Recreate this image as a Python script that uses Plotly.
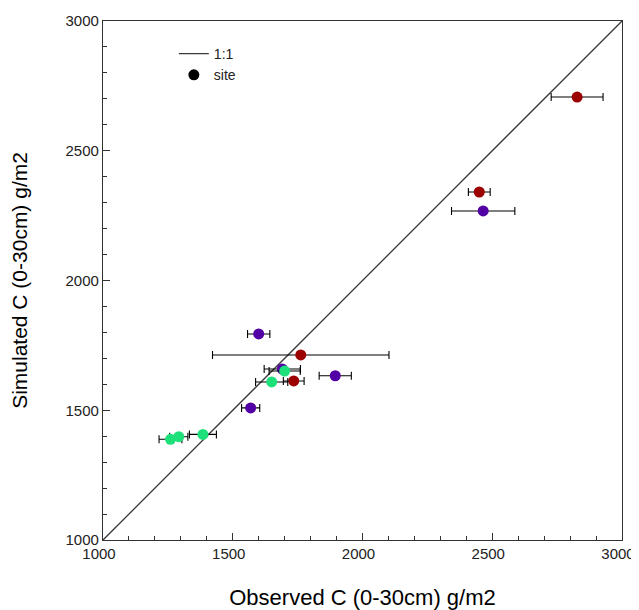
import plotly.graph_objects as go

# Observed (x), simulated (y), observed error (±) per site group
red_obs = [2827, 2450, 1762, 1735]
red_sim = [2707, 2341, 1713, 1613]
red_err = [100, 42, 340, 40]

purple_obs = [2465, 1600, 1691, 1895, 1569]
purple_sim = [2268, 1794, 1659, 1633, 1509]
purple_err = [122, 43, 70, 62, 35]

green_obs = [1700, 1650, 1385, 1292, 1260]
green_sim = [1651, 1609, 1407, 1398, 1388]
green_err = [60, 62, 52, 35, 44]

one_to_one = [1000, 3000]
tick_vals = [1000, 1500, 2000, 2500, 3000]

FONT = "Liberation Sans, Arial, sans-serif"

fig = go.Figure()

fig.add_trace(go.Scatter(
    x=one_to_one, y=one_to_one, mode="lines", name="1:1",
    line=dict(color="#3a3a3a", width=1.3), showlegend=True))

for obs, sim, err, col in [(red_obs, red_sim, red_err, "#9C0000"),
                           (purple_obs, purple_sim, purple_err, "#5200A6"),
                           (green_obs, green_sim, green_err, "#1EE07A")]:
    fig.add_trace(go.Scatter(
        x=obs, y=sim, mode="markers", showlegend=False,
        marker=dict(color=col, size=11, line=dict(width=0)),
        error_x=dict(type="data", array=err, visible=True,
                     color="black", thickness=1.1, width=4)))

fig.add_trace(go.Scatter(
    x=[None], y=[None], mode="markers", name="site",
    marker=dict(color="black", size=11), showlegend=True))

axis_common = dict(
    range=[1000, 3000], tickvals=tick_vals, showline=True, linecolor="#333",
    linewidth=1.2, mirror=True, ticks="inside", ticklen=7, tickcolor="#333",
    showgrid=False, zeroline=False, automargin=False, ticklabeloverflow="allow",
    tickfont=dict(family=FONT, size=15, color="#222"),
    minor=dict(dtick=100, ticks="inside", ticklen=4, tickcolor="#333", showgrid=False),
)

# page body has an 8px default margin, so the figure is sized/offset to compensate
fig.update_layout(
    width=631, height=602,
    margin=dict(l=95, r=17, t=13, b=70),
    paper_bgcolor="white", plot_bgcolor="white",
    xaxis=dict(**axis_common, ticklabelshift=-4,
               title=dict(text="Observed C (0-30cm) g/m2",
                          font=dict(family=FONT, size=22, color="black"),
                          standoff=44)),
    yaxis=dict(**axis_common,
               title=dict(text="Simulated C (0-30cm) g/m2",
                          font=dict(family=FONT, size=21, color="black"),
                          standoff=32)),
    legend=dict(x=(174 - 103) / 520, y=1 - (38 - 21) / 519, xanchor="left", yanchor="top",
                bgcolor="rgba(0,0,0,0)", font=dict(family=FONT, size=14, color="#222"),
                tracegroupgap=0, itemwidth=30),
    showlegend=True,
)

fig.write_html("out.html")
